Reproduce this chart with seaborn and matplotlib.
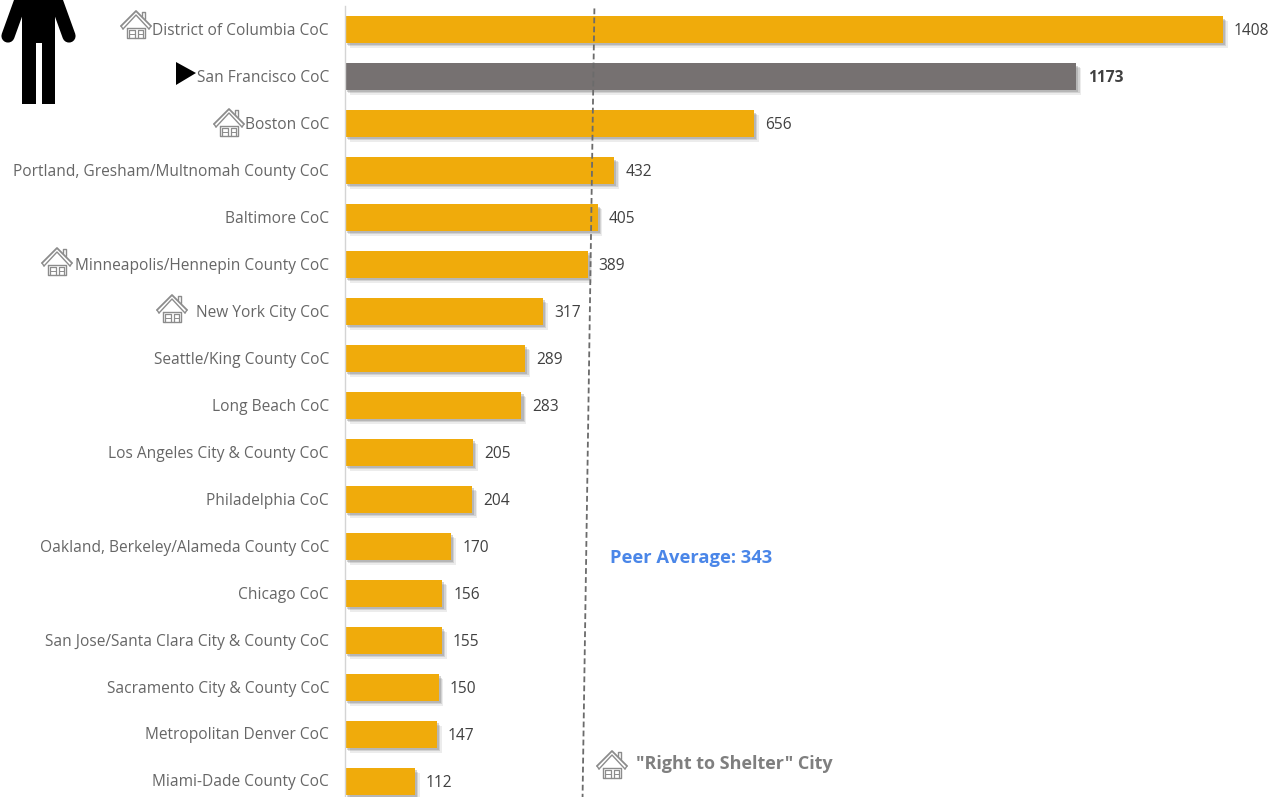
import matplotlib
matplotlib.use("Agg")
import matplotlib.pyplot as plt
import matplotlib.patheffects as pe
from matplotlib.transforms import ScaledTranslation
import pandas as pd
import seaborn as sns

W, H = 1285, 797

names = ["District of Columbia CoC", "San Francisco CoC", "Boston CoC",
         "Portland, Gresham/Multnomah County CoC", "Baltimore CoC",
         "Minneapolis/Hennepin County CoC", "New York City CoC",
         "Seattle/King County CoC", "Long Beach CoC",
         "Los Angeles City & County CoC", "Philadelphia CoC",
         "Oakland, Berkeley/Alameda County CoC", "Chicago CoC",
         "San Jose/Santa Clara City & County CoC",
         "Sacramento City & County CoC", "Metropolitan Denver CoC",
         "Miami-Dade County CoC"]
counts = [1408, 1173, 656, 432, 405, 389, 317, 289, 283, 205, 204, 170, 156,
          155, 150, 147, 112]
# the dashed average line leans a little in the source picture
peer_x = [400, 381]
peer_y = [-0.45, 16.34]

# icon anchors, in pixels of the picture
house_at = [(136, 25), (229, 123), (57, 262), (172, 309), (612, 765)]

sns.set_theme(style="white")
plt.rcParams['font.family'] = ['Open Sans', 'DejaVu Sans']

df = pd.DataFrame({"coc": names, "count": counts})
df["kind"] = ["sf" if n == "San Francisco CoC" else "peer" for n in names]

fig = plt.figure(figsize=(W / 100, H / 100), dpi=100)
ax = fig.add_axes([345 / W, 0, (W - 345) / W, 1])

sns.barplot(data=df, y="coc", x="count", hue="kind", dodge=False, width=0.56,
            palette={"peer": "#F0AB0B", "sf": "#767171"}, legend=False,
            saturation=1, linewidth=0, ax=ax)

ax.set_xlim(0, (W - 345) / 0.6235)
ax.set_ylim(16.33, -0.63)
ax.set_xlabel("")
ax.set_ylabel("")
ax.xaxis.set_visible(False)
ax.tick_params(axis="y", length=0, pad=11.5, labelsize=11.2, labelcolor="#666666")
for side in ["top", "right", "bottom"]:
    ax.spines[side].set_visible(False)
ax.spines["left"].set_color("#d4d4d4")
ax.spines["left"].set_linewidth(1)
ax.spines["left"].set_bounds(-0.5, 16.33)

# nudge the category labels up a pixel
up = ScaledTranslation(0, 1 / 100, fig.dpi_scale_trans)
for lab in ax.get_yticklabels():
    lab.set_transform(lab.get_transform() + up)

# soft shadow, three layers widening outward
shadow = [pe.SimplePatchShadow(offset=(3.5, -3.5), shadow_rgbFace="#999999", alpha=0.18),
          pe.SimplePatchShadow(offset=(2.5, -2.5), shadow_rgbFace="#888888", alpha=0.25),
          pe.SimplePatchShadow(offset=(1.5, -1.5), shadow_rgbFace="#777777", alpha=0.3),
          pe.Normal()]
for cont in ax.containers:
    for bar in cont:
        bar.set_path_effects(shadow)
    is_sf = cont.datavalues[~pd.isna(cont.datavalues)][0] == 1173
    labs = ax.bar_label(cont, fmt="%d", padding=7.5, fontsize=11.2,
                        color="#404040", fontweight="bold" if is_sf else "normal")
    for t in labs:
        t.xyann = (8.5 if is_sf else 8, -1.2)

ax.plot(peer_x, peer_y, color="#6b6b6b", lw=1.3, ls=(0, (3.2, 1.8)), zorder=5)

# overlay in picture pixels for the icons and free text
ov = fig.add_axes([0, 0, 1, 1], facecolor="none")
ov.set_xlim(0, W)
ov.set_ylim(H, 0)
ov.axis("off")


def house(x, y):
    c = "#8c8c8c"
    ov.plot([x - 15, x, x + 15], [y + 1, y - 14, y + 1], color=c, lw=1.3)
    ov.plot([x - 13, x, x + 13], [y + 4, y - 10, y + 4], color=c, lw=1.0)
    ov.plot([x - 15, x - 13], [y + 1, y + 4], color=c, lw=1.0)
    ov.plot([x + 15, x + 13], [y + 1, y + 4], color=c, lw=1.0)
    ov.plot([x + 6, x + 6, x + 9, x + 9], [y - 9, y - 13, y - 13, y - 6], color=c, lw=1.0)
    ov.plot([x - 9, x - 9, x + 9, x + 9, x - 9], [y + 3, y + 13, y + 13, y + 3, y + 3], color=c, lw=1.0)
    ov.plot([x - 7, x - 7, x - 1, x - 1], [y + 13, y + 5, y + 5, y + 13], color=c, lw=0.9)
    ov.plot([x + 2, x + 2, x + 7, x + 7], [y + 13, y + 5, y + 5, y + 13], color=c, lw=0.9)
    ov.plot([x - 7, x - 1], [y + 9, y + 9], color=c, lw=0.7)
    ov.plot([x + 2, x + 7], [y + 9, y + 9], color=c, lw=0.7)


for hx, hy in house_at:
    house(hx, hy)

# San Francisco marker
ov.fill([176, 176, 196], [62, 85, 73], color="black", lw=0)

# person cut off by the top edge
ov.fill([22, 55, 55, 42, 42, 36, 36, 22], [0, 0, 104, 104, 43, 43, 104, 104],
        color="black", lw=0)
ov.plot([21, 8], [0, 36], color="black", lw=9.5, solid_capstyle="round")
ov.plot([56, 69], [0, 36], color="black", lw=9.5, solid_capstyle="round")

ov.text(610, 558, "Peer Average: 343", color="#4A86E8", fontsize=13.2,
        fontweight="bold", va="center", ha="left")
ov.text(636, 764, "\"Right to Shelter\" City", color="#7F7F7F", fontsize=13,
        fontweight="bold", va="center", ha="left")

fig.savefig("out.png", dpi=100)
